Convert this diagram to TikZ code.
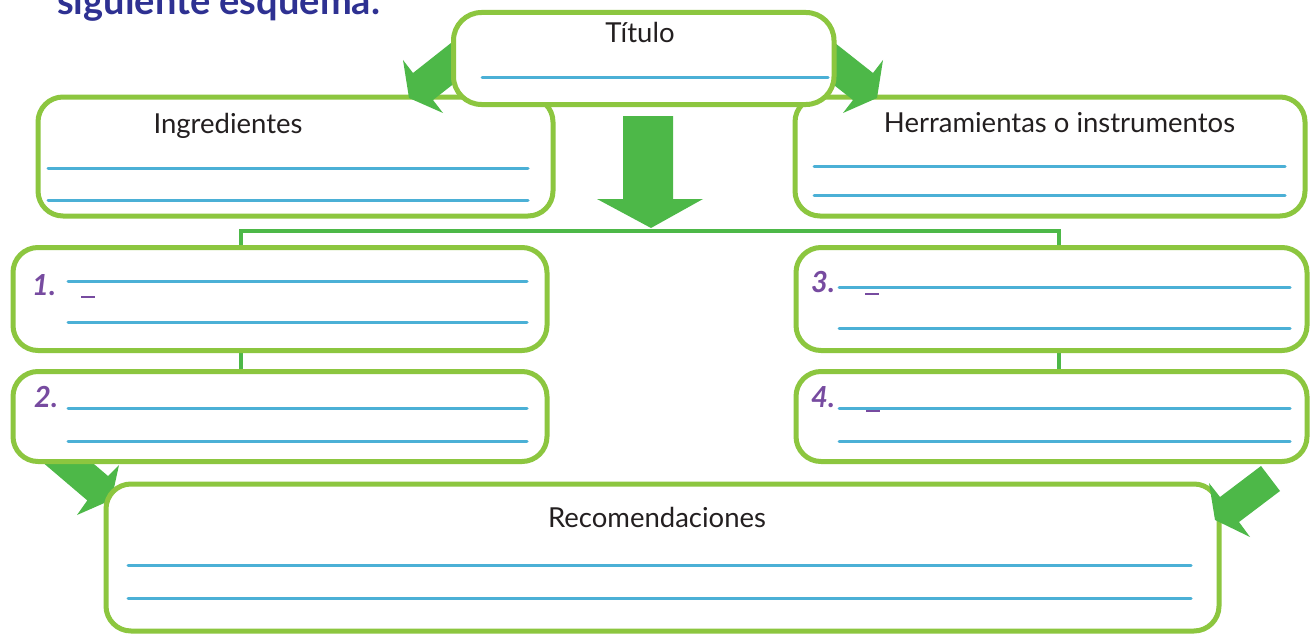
\documentclass[tikz,border=0pt]{standalone}
\usepackage{fontspec}
\setmainfont{Lato}
\definecolor{boxgreen}{HTML}{8CC63F}
\definecolor{arrgreen}{HTML}{4DB848}
\definecolor{lineblue}{HTML}{4BB0D6}
\definecolor{numpurple}{HTML}{774BA0}
\definecolor{headblue}{HTML}{2E3192}
\definecolor{txt}{HTML}{231F20}
\tikzset{
  box/.style={draw=boxgreen, line width=5pt, fill=white, rounded corners=25pt,
    inner sep=0pt, outer sep=0pt, shape=rectangle},
  arrowshape/.style={fill=arrgreen, draw=none},
  conn/.style={draw=arrgreen, line width=4pt},
  bline/.style={draw=lineblue, line width=3pt, line cap=round},
  lbl/.style={font=\fontsize{27.5}{32}\selectfont, text=txt, anchor=base, inner sep=0pt},
  num/.style={font=\fontsize{29}{33}\selectfont\bfseries\itshape, text=numpurple, anchor=base west, inner sep=0pt},
  uline/.style={draw=numpurple, line width=1.8pt},
}
\begin{document}
\begin{tikzpicture}[x=1pt,y=-1pt]
\useasboundingbox (0,0) rectangle (1311,634);
\clip (0,0) rectangle (1311,634);
\fill[white] (0,0) rectangle (1311,634);

% header (cut off at top, as in the reference)
\node[anchor=base west, inner sep=0pt, text=headblue, font=\fontsize{38}{44}\selectfont\bfseries] (head) at (57,15) {siguiente esquema.};

% upper side boxes
\node[box, minimum width=515pt, minimum height=119pt] (ingr) at (295.5,156.5) {};
\node[box, minimum width=510pt, minimum height=119pt] (herr) at (1050,156.5) {};

% diagonal arrows from title
\fill[arrowshape] (470,28) -- (413,73) -- (403,60) -- (409,98) -- (443,113) -- (433,100) -- (470,71) -- cycle;
\fill[arrowshape] (816,28) -- (873,73) -- (883,60) -- (877,98) -- (843,113) -- (853,100) -- (816,71) -- cycle;

% title box
\node[box, rounded corners=28pt, minimum width=380.5pt, minimum height=92pt] (titulo) at (643.75,58.5) {};

% big down arrow
\fill[arrowshape] (623,116) -- (673,116) -- (673,199) -- (703,199) -- (651,228) -- (597,199) -- (623,199) -- cycle;

% bracket connector
\coordinate (hL) at (241,231);
\coordinate (hR) at (1059,231);
\draw[conn] (hL |- 0,371.5) -- (hL) -- (hR) -- (hR |- 0,371.5);

% bottom-left arrow (under boxes)
\fill[arrowshape] (34,455) -- (87.3,500.4) -- (77,515) -- (111.4,499.9) -- (119,465) -- (108,476) -- (54.7,430.6) -- cycle;

% numbered boxes
\node[box, minimum width=534pt, minimum height=103pt] (b1) at (280,299) {};
\node[box, minimum width=534pt, minimum height=90pt] (b2) at (280,416.5) {};
\node[box, minimum width=511pt, minimum height=103pt] (b3) at (1051.5,299) {};
\node[box, minimum width=511pt, minimum height=90pt] (b4) at (1051.5,416.5) {};

% recommendations box
\node[box, minimum width=1113pt, minimum height=147pt] (rec) at (662.5,557.5) {};

% bottom-right arrow (over box)
\fill[arrowshape] (1261,466) -- (1280,491) -- (1239,522) -- (1250,537) -- (1215,520) -- (1209,483) -- (1220,497) -- cycle;

% labels
\node[lbl] (tTit) at (640,43) {Título};
\node[lbl] (tIng) at (228,133) {Ingredientes};
\node[lbl] (tHer) at (1059.5,132) {Herramientas o instrumentos};
\node[lbl] (tRec) at (657,527) {Recomendaciones};

\node[num] (n1) at (32,295) {1.};
\node[num] (n2) at (34,407) {2.};
\node[num] (n3) at (811,292) {3.};
\node[num] (n4) at (811,407) {4.};

% blue writing lines
\draw[bline] (482,77) -- (828,77);
\draw[bline] (48,168) -- (528,168);
\draw[bline] (48,200) -- (528,200);
\draw[bline] (814,166) -- (1285,166);
\draw[bline] (814,195) -- (1285,195);
\draw[bline] (68,281) -- (527,281);
\draw[bline] (68,322) -- (527,322);
\draw[bline] (68,408) -- (527,408);
\draw[bline] (68,441) -- (527,441);
\draw[bline] (839,287) -- (1290,287);
\draw[bline] (839,328) -- (1290,328);
\draw[bline] (839,408) -- (1290,408);
\draw[bline] (839,441) -- (1290,441);
\draw[bline] (128,565) -- (1191,565);
\draw[bline] (128,598) -- (1191,598);

% small purple dashes
\draw[uline] (81,297) -- (95,297);
\draw[uline] (865,294) -- (879,294);
\draw[uline] (866,411) -- (880,411);
\end{tikzpicture}
\end{document}
